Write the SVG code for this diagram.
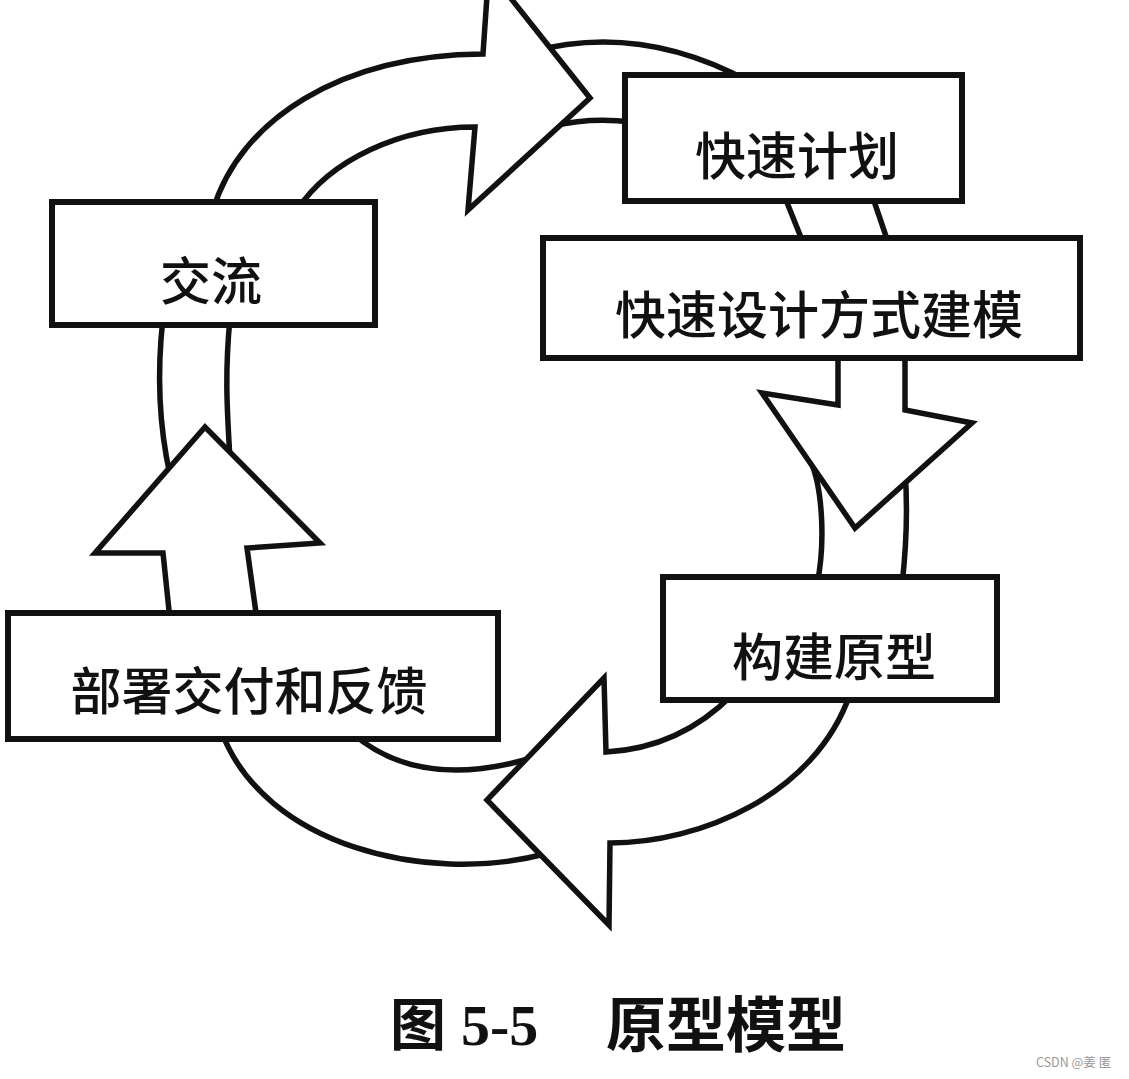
<svg xmlns="http://www.w3.org/2000/svg" width="1129" height="1079" viewBox="0 0 1129 1079">
<style>
.band{fill:#fff;stroke:#111;stroke-width:5.5;stroke-linejoin:miter}
.box{fill:#fff;stroke:#111;stroke-width:6}
.lbl{font-family:"Noto Sans CJK SC","Noto Sans",sans-serif;font-size:51px;font-weight:500;fill:#111;text-anchor:middle}
.cap{font-family:"Noto Sans CJK SC",sans-serif;font-weight:700;fill:#111}
</style>
<rect width="1129" height="1079" fill="#fff"/>
<g id="connectors">
  <!-- band from top arrowhead into 快速计划 -->
  <path class="band" d="M530,52 Q640,22 750,82 L700,130 L632,122 Q590,117 553,126 Z"/>
  <!-- top arrow: 交流 -> 快速计划 -->
  <path class="band" d="M213,210 C240,120 340,55 483,54 L487,-4 L509,-4 L590,98 L468,210 L475,127 C400,127 330,160 297,210 Z"/>
  <!-- connector 快速计划 -> 快速设计方式建模 -->
  <path class="band" d="M784,195 L804,245 L889,245 L872,195 Z"/>
  <!-- band from down arrowhead into 构建原型 -->
  <path class="band" d="M810,460 C822,485 826,540 817,585 L902,585 C906,550 908,510 905,470 Z"/>
  <!-- down arrow: 快速设计方式建模 -> 构建原型 -->
  <path class="band" d="M838,350 L838,405 L762,393 L855,528 L972,423 L905,410 L905,350 Z"/>
  <!-- band from bottom arrowhead into 部署交付和反馈 -->
  <path class="band" d="M545,854 C425,885 265,845 222,733 L352,733 Q420,792 535,757 Z"/>
  <!-- bottom arrow: 构建原型 -> 部署交付和反馈 -->
  <path class="band" d="M850,694 C815,795 700,843 610,843 L609,925 L487,800 L604,678 L606,752 Q680,748 733,694 Z"/>
  <!-- band from up arrowhead into 交流 -->
  <path class="band" d="M163,318 C156,380 160,430 170,475 L230,460 C228,420 224,380 230,318 Z"/>
  <!-- up arrow: 部署交付和反馈 -> 交流 -->
  <path class="band" d="M170,620 L163,553 L95,553 L205,427 L320,543 L247,548 L257,620 Z"/>
</g>
<g id="node-jiaoliu">
  <rect class="box" x="52" y="202" width="323" height="123"/>
  <text class="lbl" x="211" y="300">交流</text>
</g>
<g id="node-kuaisujihua">
  <rect class="box" x="625" y="75" width="337" height="126"/>
  <text class="lbl" x="797" y="175">快速计划</text>
</g>
<g id="node-kuaisusheji">
  <rect class="box" x="543" y="238" width="537" height="120"/>
  <text class="lbl" x="819" y="334">快速设计方式建模</text>
</g>
<g id="node-goujianyuanxing">
  <rect class="box" x="663" y="577" width="334" height="123"/>
  <text class="lbl" x="834" y="676">构建原型</text>
</g>
<g id="node-bushu">
  <rect class="box" x="8" y="613" width="490" height="126"/>
  <text class="lbl" x="249" y="710">部署交付和反馈</text>
</g>
<g id="caption">
  <text class="cap" x="390" y="1045" font-size="56">图</text>
  <text x="461" y="1045" font-family="Liberation Serif,serif" font-weight="700" font-size="58" fill="#111">5-5</text>
  <text class="cap" x="606" y="1047" font-size="60">原型模型</text>
</g>
<text x="1036" y="1067" font-family="Noto Sans CJK SC,sans-serif" font-size="12.5" fill="#999">CSDN @姜 匿</text>
</svg>
